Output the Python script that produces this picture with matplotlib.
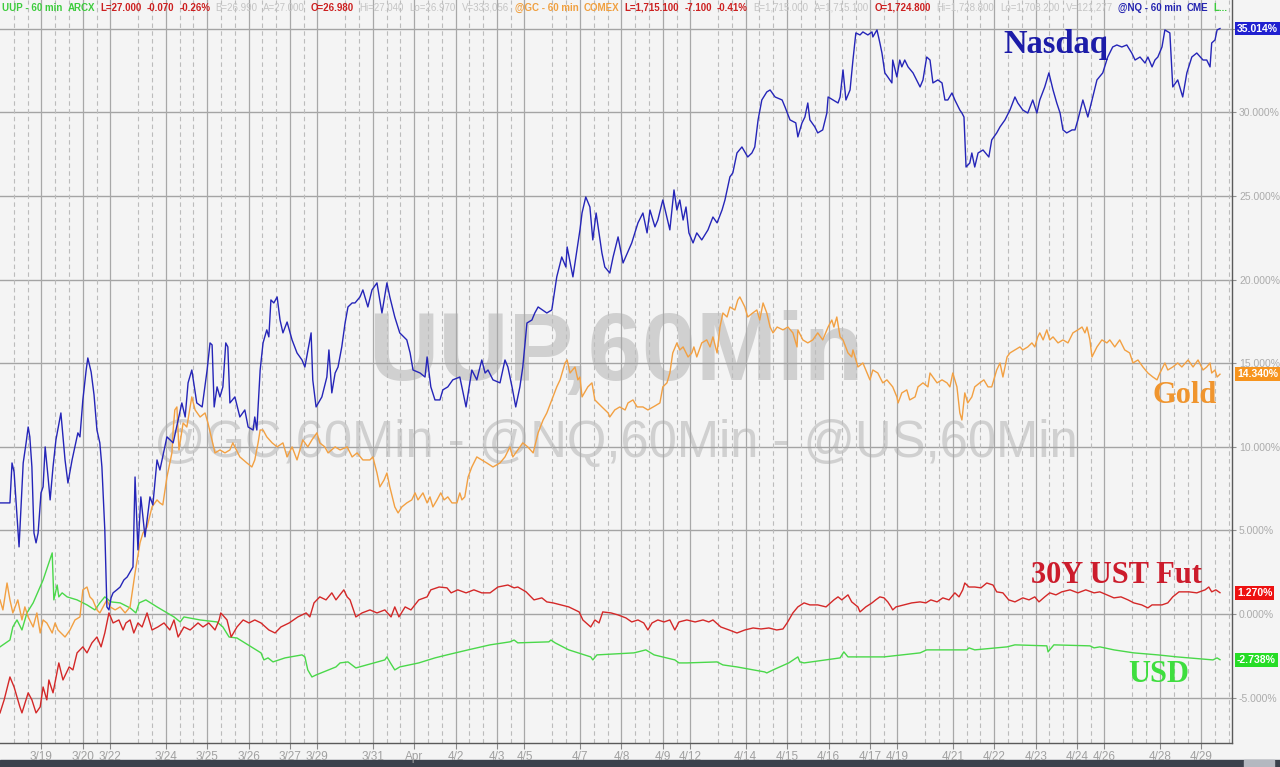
import numpy as np
import matplotlib.pyplot as plt
import matplotlib.transforms as mtransforms
from matplotlib.patches import Rectangle

# time axis: trading-session days (3/19 session starts at 1.0, Sunday evening sessions start at x.66)
tick_labels = ['3/19', '3/20', '3/22', '3/24', '3/25', '3/26', '3/27', '3/29', '3/31', 'Apr',
               '4/2', '4/3', '4/5', '4/7', '4/8', '4/9', '4/12', '4/14', '4/15', '4/16',
               '4/17', '4/19', '4/21', '4/22', '4/23', '4/24', '4/26', '4/28', '4/29']
tick_pos = [1, 2, 2.66, 4, 5, 6, 7, 7.66, 9, 10,
            11, 12, 12.66, 14, 15, 16, 16.66, 18, 19, 20,
            21, 21.66, 23, 24, 25, 26, 26.66, 28, 29]

# Nasdaq (% change)
nq_t = [0.00, 0.24, 0.29, 0.34, 0.46, 0.56, 0.63, 0.68, 0.72, 0.77,
        0.82, 0.87, 0.92, 0.99, 1.04, 1.09, 1.16, 1.21, 1.28, 1.35,
        1.47, 1.57, 1.64, 1.74, 1.88, 1.93, 2.00, 2.08, 2.12, 2.20,
        2.27, 2.34, 2.41, 2.46, 2.53, 2.58, 2.63, 2.68, 2.73, 2.82,
        2.90, 2.99, 3.07, 3.14, 3.21, 3.26, 3.33, 3.40, 3.50, 3.62,
        3.69, 3.79, 3.86, 4.03, 4.18, 4.39, 4.47, 4.54, 4.63, 4.75,
        4.88, 5.00, 5.07, 5.12, 5.17, 5.24, 5.31, 5.38, 5.45, 5.50,
        5.55, 5.67, 5.79, 5.91, 5.99, 6.11, 6.15, 6.20, 6.28, 6.35,
        6.44, 6.49, 6.54, 6.61, 6.69, 6.76, 6.83, 6.93, 7.05, 7.17,
        7.29, 7.36, 7.51, 7.55, 7.63, 7.77, 7.89, 7.94, 8.01, 8.09,
        8.16, 8.25, 8.33, 8.40, 8.50, 8.57, 8.69, 8.76, 8.88, 8.98,
        9.10, 9.22, 9.34, 9.41, 9.53, 9.65, 9.82, 9.90, 9.97, 10.14,
        10.26, 10.31, 10.40, 10.50, 10.62, 10.69, 10.81, 10.93, 11.10, 11.25,
        11.39, 11.51, 11.63, 11.71, 11.78, 11.90, 12.07, 12.19, 12.26, 12.36,
        12.45, 12.55, 12.62, 12.72, 12.84, 12.91, 12.99, 13.20, 13.32, 13.44,
        13.56, 13.66, 13.69, 13.83, 14.00, 14.05, 14.14, 14.24, 14.31, 14.39,
        14.53, 14.60, 14.72, 14.80, 14.92, 15.04, 15.25, 15.40, 15.52, 15.62,
        15.69, 15.81, 15.88, 16.00, 16.17, 16.27, 16.34, 16.41, 16.49, 16.56,
        16.63, 16.73, 16.82, 16.94, 17.09, 17.21, 17.31, 17.43, 17.50, 17.62,
        17.69, 17.79, 17.91, 18.05, 18.15, 18.22, 18.30, 18.39, 18.51, 18.59,
        18.71, 18.88, 18.95, 19.07, 19.21, 19.26, 19.36, 19.43, 19.50, 19.55,
        19.67, 19.74, 19.86, 19.96, 19.99, 20.11, 20.23, 20.28, 20.35, 20.42,
        20.52, 20.59, 20.66, 20.76, 20.83, 20.95, 21.05, 21.07, 21.17, 21.24,
        21.29, 21.36, 21.43, 21.53, 21.55, 21.65, 21.72, 21.77, 21.84, 21.92,
        22.04, 22.21, 22.28, 22.37, 22.45, 22.52, 22.64, 22.74, 22.81, 22.88,
        22.98, 23.05, 23.17, 23.22, 23.27, 23.32, 23.41, 23.46, 23.53, 23.61,
        23.73, 23.87, 23.94, 24.06, 24.14, 24.26, 24.38, 24.50, 24.57, 24.69,
        24.81, 24.93, 25.03, 25.10, 25.22, 25.32, 25.42, 25.51, 25.59, 25.66,
        25.75, 25.88, 25.95, 26.02, 26.14, 26.26, 26.36, 26.48, 26.62, 26.74,
        26.86, 26.96, 27.08, 27.20, 27.32, 27.40, 27.52, 27.64, 27.71, 27.81,
        27.88, 27.95, 28.05, 28.12, 28.24, 28.31, 28.43, 28.55, 28.65, 28.77,
        28.89, 29.04, 29.13, 29.21, 29.25, 29.33, 29.38, 29.45]
nq_v = [6.64, 6.64, 9.03, 8.49, 4.01, 9.03, 10.23, 11.18, 10.59, 8.79,
        4.84, 4.25, 4.84, 7.24, 7.60, 9.99, 8.19, 6.82, 8.79, 10.41,
        12.02, 9.21, 7.83, 9.21, 10.83, 10.59, 12.80, 14.59, 15.31, 14.47,
        13.10, 11.00, 10.23, 8.79, 5.02, 0.42, 0.24, 0.96, 1.26, 1.44,
        1.61, 2.03, 2.21, 2.51, 2.81, 8.19, 3.83, 7.00, 4.61, 7.00,
        6.52, 9.21, 8.61, 10.59, 10.23, 12.62, 11.78, 13.82, 14.59, 12.62,
        12.38, 14.59, 16.21, 16.09, 12.38, 13.58, 12.98, 13.58, 16.21, 15.97,
        12.62, 12.98, 11.78, 12.20, 11.18, 11.00, 11.78, 11.00, 14.59, 16.21,
        16.99, 16.57, 18.78, 18.60, 18.96, 17.58, 16.81, 17.46, 16.39, 15.61,
        15.19, 14.77, 16.81, 14.00, 12.38, 12.98, 14.17, 15.79, 13.22, 14.41,
        14.77, 15.97, 17.40, 18.36, 18.60, 18.60, 18.96, 19.38, 18.36, 19.38,
        19.80, 18.00, 19.80, 18.96, 17.76, 16.81, 16.39, 15.61, 14.59, 14.41,
        14.17, 15.37, 13.58, 12.80, 12.80, 13.40, 13.58, 14.00, 14.17, 12.38,
        14.59, 14.00, 15.19, 14.41, 14.59, 14.00, 13.82, 15.19, 14.77, 13.58,
        12.38, 13.58, 14.77, 17.40, 17.58, 18.00, 18.36, 18.00, 18.18, 20.16,
        21.35, 20.75, 21.95, 20.16, 22.97, 23.98, 24.94, 24.34, 22.37, 23.98,
        21.59, 20.75, 20.39, 21.35, 22.55, 20.99, 22.19, 23.39, 23.98, 22.79,
        24.16, 23.15, 23.56, 24.76, 22.97, 25.36, 24.16, 24.76, 23.56, 24.34,
        22.79, 22.19, 22.79, 22.37, 22.97, 23.74, 23.39, 24.16, 24.76, 26.14,
        26.38, 27.57, 27.93, 27.33, 27.57, 27.93, 29.55, 30.74, 31.22, 31.34,
        30.92, 30.74, 30.32, 29.55, 29.37, 28.53, 29.37, 29.72, 30.56, 29.55,
        29.13, 28.77, 28.95, 29.96, 30.92, 30.74, 30.56, 30.92, 32.54, 30.74,
        31.34, 33.13, 34.75, 34.63, 34.81, 34.63, 34.81, 34.51, 34.93, 34.15,
        33.55, 32.36, 32.12, 31.76, 33.13, 32.12, 33.13, 32.72, 33.13, 32.72,
        32.36, 31.52, 31.94, 33.31, 33.13, 31.76, 31.94, 31.76, 30.74, 30.74,
        31.16, 30.74, 30.14, 29.96, 29.72, 26.73, 26.97, 27.57, 26.73, 27.57,
        27.75, 27.33, 28.35, 28.77, 29.13, 29.55, 30.14, 30.92, 30.56, 30.14,
        29.96, 30.74, 29.96, 30.74, 31.52, 32.36, 31.34, 30.56, 29.96, 28.95,
        28.77, 28.95, 28.95, 29.55, 30.74, 29.72, 30.74, 31.94, 32.36, 33.31,
        33.91, 34.03, 33.91, 34.03, 33.55, 33.13, 33.31, 32.95, 33.31, 32.72,
        33.13, 33.31, 33.91, 34.93, 34.75, 31.52, 31.94, 30.92, 32.36, 33.31,
        33.55, 33.13, 33.13, 32.72, 34.15, 34.33, 34.93, 35.014]

# Gold (% change)
gc_t = [0.00, 0.07, 0.17, 0.24, 0.31, 0.43, 0.53, 0.60, 0.68, 0.80,
        0.89, 0.97, 1.04, 1.13, 1.26, 1.33, 1.40, 1.57, 1.69, 1.81,
        1.93, 2.00, 2.10, 2.17, 2.24, 2.34, 2.41, 2.58, 2.66, 2.78,
        2.90, 3.02, 3.14, 3.21, 3.26, 3.38, 3.45, 3.55, 3.67, 3.79,
        3.86, 3.93, 4.03, 4.15, 4.18, 4.22, 4.27, 4.32, 4.42, 4.51,
        4.63, 4.71, 4.83, 4.95, 5.02, 5.19, 5.31, 5.43, 5.55, 5.62,
        5.79, 5.96, 6.08, 6.15, 6.23, 6.28, 6.35, 6.44, 6.57, 6.69,
        6.83, 6.93, 7.05, 7.17, 7.31, 7.43, 7.53, 7.65, 7.72, 7.84,
        7.92, 8.09, 8.21, 8.38, 8.50, 8.62, 8.76, 8.93, 9.00, 9.10,
        9.17, 9.27, 9.34, 9.41, 9.53, 9.61, 9.70, 9.82, 9.94, 10.02,
        10.09, 10.21, 10.31, 10.38, 10.45, 10.55, 10.64, 10.72, 10.81, 10.91,
        11.03, 11.10, 11.15, 11.22, 11.30, 11.39, 11.51, 11.63, 11.75, 11.90,
        12.07, 12.19, 12.31, 12.38, 12.50, 12.62, 12.74, 12.87, 12.99, 13.11,
        13.20, 13.32, 13.44, 13.52, 13.64, 13.69, 13.76, 13.88, 13.95, 14.00,
        14.05, 14.19, 14.29, 14.36, 14.53, 14.68, 14.72, 14.84, 14.96, 15.09,
        15.16, 15.28, 15.38, 15.52, 15.64, 15.81, 15.93, 16.00, 16.10, 16.17,
        16.24, 16.34, 16.41, 16.49, 16.61, 16.70, 16.75, 16.82, 16.94, 17.06,
        17.14, 17.21, 17.31, 17.38, 17.45, 17.55, 17.62, 17.74, 17.81, 17.86,
        17.98, 18.05, 18.17, 18.27, 18.34, 18.42, 18.51, 18.59, 18.66, 18.76,
        18.90, 19.02, 19.14, 19.24, 19.26, 19.38, 19.50, 19.62, 19.74, 19.86,
        19.99, 20.08, 20.13, 20.20, 20.28, 20.35, 20.47, 20.56, 20.59, 20.71,
        20.83, 20.93, 21.00, 21.07, 21.19, 21.31, 21.41, 21.55, 21.65, 21.68,
        21.77, 21.89, 21.96, 22.09, 22.16, 22.28, 22.40, 22.45, 22.52, 22.62,
        22.74, 22.86, 22.93, 23.00, 23.10, 23.17, 23.22, 23.29, 23.36, 23.46,
        23.53, 23.65, 23.75, 23.85, 23.94, 24.06, 24.14, 24.21, 24.31, 24.38,
        24.50, 24.62, 24.69, 24.81, 24.91, 24.98, 25.05, 25.10, 25.18, 25.27,
        25.34, 25.42, 25.54, 25.66, 25.78, 25.90, 26.02, 26.12, 26.19, 26.24,
        26.31, 26.36, 26.48, 26.60, 26.72, 26.79, 26.91, 27.03, 27.15, 27.27,
        27.35, 27.47, 27.59, 27.71, 27.83, 27.93, 28.00, 28.12, 28.19, 28.31,
        28.43, 28.53, 28.68, 28.80, 28.92, 29.04, 29.13, 29.21, 29.25, 29.33,
        29.38, 29.45]
gc_v = [0.84, 0.24, 1.85, 0.84, 0.06, 0.84, -0.36, 0.42, -0.18, -0.78,
        0.06, -1.14, -0.36, -0.54, -1.14, -0.54, -0.96, -1.38, -0.96, -0.36,
        -0.18, 1.44, 1.61, 1.02, 0.84, 0.24, 0.06, 0.84, 0.42, 0.24,
        0.42, 0.06, 0.42, 1.61, 2.45, 4.25, 4.84, 5.20, 6.40, 6.82,
        6.64, 6.52, 8.19, 9.63, 11.00, 12.20, 12.38, 9.81, 11.42, 11.18,
        12.98, 12.20, 11.78, 12.02, 11.42, 9.63, 9.81, 9.63, 9.81, 10.23,
        9.39, 9.03, 8.79, 9.21, 10.23, 11.00, 11.00, 10.59, 10.23, 9.99,
        10.23, 9.39, 9.99, 9.21, 10.41, 9.99, 10.41, 10.83, 10.23, 9.99,
        9.63, 9.99, 9.81, 9.99, 9.39, 9.63, 9.21, 9.21, 9.39, 8.43,
        7.60, 8.01, 8.43, 7.60, 6.40, 6.04, 6.40, 6.64, 6.82, 7.24,
        6.82, 7.24, 6.64, 7.00, 6.40, 6.82, 7.24, 6.82, 7.00, 6.64,
        6.64, 7.24, 6.82, 7.00, 8.19, 8.79, 9.39, 9.21, 9.03, 8.79,
        9.03, 9.39, 9.99, 9.39, 9.81, 10.23, 9.99, 9.63, 10.83, 11.60,
        12.02, 12.80, 13.58, 14.00, 15.01, 15.19, 14.41, 14.77, 14.00, 14.17,
        12.98, 13.58, 13.82, 12.80, 12.38, 12.02, 11.78, 12.20, 12.38, 12.20,
        12.62, 12.80, 12.38, 12.38, 12.20, 12.44, 12.62, 13.58, 13.82, 14.41,
        15.61, 16.21, 15.79, 15.97, 15.37, 15.61, 15.97, 15.37, 16.21, 16.39,
        15.97, 16.57, 15.61, 17.16, 18.00, 17.76, 18.36, 18.18, 18.78, 18.96,
        18.36, 17.76, 18.00, 18.18, 17.58, 18.60, 18.00, 17.16, 16.81, 17.16,
        16.99, 17.16, 16.81, 15.97, 16.99, 16.39, 16.21, 16.39, 16.81, 16.39,
        17.16, 17.58, 17.16, 17.76, 16.57, 16.39, 15.61, 15.37, 15.79, 14.77,
        15.01, 14.41, 14.00, 14.59, 14.41, 13.82, 14.00, 13.58, 12.98, 12.62,
        13.22, 13.40, 12.80, 12.98, 13.58, 13.82, 13.58, 14.41, 14.17, 13.82,
        14.00, 13.82, 13.58, 14.41, 13.58, 12.02, 11.60, 13.22, 12.62, 12.98,
        13.58, 13.82, 14.00, 13.58, 13.58, 14.59, 15.01, 14.17, 15.37, 15.61,
        15.79, 15.97, 15.79, 15.97, 16.21, 15.97, 16.57, 16.81, 16.39, 16.99,
        16.39, 16.57, 16.21, 16.39, 16.21, 16.81, 16.99, 17.16, 16.81, 17.16,
        16.39, 15.37, 15.97, 16.39, 16.21, 16.39, 15.97, 16.39, 15.79, 15.61,
        15.01, 15.19, 14.77, 14.41, 14.17, 14.00, 14.41, 15.01, 14.59, 14.77,
        15.01, 14.77, 15.19, 14.77, 15.19, 14.59, 14.77, 15.01, 14.41, 14.59,
        14.17, 14.340]

# 30Y UST future (% change)
us_t = [0.00, 0.10, 0.24, 0.34, 0.48, 0.53, 0.68, 0.77, 0.87, 0.97,
        1.04, 1.13, 1.18, 1.28, 1.42, 1.52, 1.67, 1.76, 1.86, 2.00,
        2.10, 2.22, 2.34, 2.44, 2.53, 2.63, 2.73, 2.87, 2.97, 3.04,
        3.14, 3.23, 3.33, 3.43, 3.55, 3.67, 3.81, 3.96, 4.10, 4.20,
        4.30, 4.44, 4.59, 4.78, 4.90, 5.04, 5.19, 5.29, 5.33, 5.48,
        5.58, 5.72, 5.87, 6.01, 6.15, 6.30, 6.49, 6.64, 6.78, 6.98,
        7.19, 7.39, 7.48, 7.58, 7.72, 7.87, 8.01, 8.11, 8.30, 8.38,
        8.45, 8.59, 8.74, 8.93, 9.10, 9.29, 9.44, 9.53, 9.63, 9.78,
        9.92, 10.11, 10.31, 10.40, 10.60, 10.79, 10.89, 11.05, 11.25, 11.44,
        11.63, 11.83, 12.02, 12.26, 12.41, 12.50, 12.70, 12.89, 13.08, 13.20,
        13.35, 13.54, 13.73, 13.98, 14.07, 14.26, 14.36, 14.46, 14.55, 14.75,
        14.92, 15.11, 15.25, 15.40, 15.54, 15.64, 15.74, 15.88, 16.03, 16.17,
        16.29, 16.39, 16.58, 16.78, 16.97, 17.11, 17.21, 17.40, 17.60, 17.79,
        17.98, 18.18, 18.37, 18.56, 18.75, 18.90, 19.00, 19.14, 19.26, 19.41,
        19.55, 19.74, 19.94, 20.13, 20.23, 20.32, 20.47, 20.56, 20.71, 20.76,
        20.90, 21.05, 21.14, 21.24, 21.34, 21.43, 21.51, 21.55, 21.63, 21.82,
        22.01, 22.21, 22.35, 22.47, 22.62, 22.76, 22.91, 23.05, 23.15, 23.24,
        23.29, 23.39, 23.53, 23.68, 23.82, 23.97, 24.06, 24.21, 24.35, 24.50,
        24.69, 24.84, 24.98, 25.08, 25.22, 25.34, 25.49, 25.63, 25.83, 26.02,
        26.21, 26.41, 26.55, 26.72, 26.89, 27.06, 27.23, 27.37, 27.56, 27.71,
        27.81, 28.05, 28.19, 28.31, 28.46, 28.70, 28.89, 29.09, 29.18, 29.25,
        29.35, 29.45]
us_v = [-5.92, -5.14, -3.77, -4.37, -5.56, -5.92, -4.72, -5.14, -5.92, -5.56,
        -4.37, -5.14, -3.95, -4.72, -2.93, -3.95, -3.17, -3.35, -2.33, -1.97,
        -2.33, -1.73, -1.38, -1.97, -1.14, 0.06, -0.54, -0.36, -0.96, -0.54,
        -0.36, -1.14, -0.54, -0.78, 0.06, -0.96, -0.78, -0.54, -0.96, -0.36,
        -1.38, -0.78, -0.96, -0.54, -0.78, -0.54, -0.96, -0.36, 0.06, -0.36,
        -1.38, -0.78, -0.36, -0.54, -0.36, -0.54, -0.96, -1.14, -0.78, -0.54,
        -0.18, 0.06, -0.18, 0.66, 1.02, 0.84, 1.26, 0.84, 1.44, 1.02,
        0.84, -0.18, 0.06, 0.24, 0.06, 0.24, -0.18, 0.42, -0.18, 0.42,
        0.24, 0.84, 1.02, 1.44, 1.61, 1.56, 1.26, 1.44, 1.26, 1.44,
        1.26, 1.26, 1.61, 1.73, 1.56, 1.61, 1.32, 0.84, 0.96, 0.72,
        0.66, 0.54, 0.42, 0.12, -0.36, -0.78, -0.36, -0.54, 0.12, 0.06,
        -0.06, -0.24, -0.48, -0.36, -0.54, -0.96, -0.54, -0.36, -0.48, -0.36,
        -0.96, -0.48, -0.36, -0.48, -0.36, -0.48, -0.36, -0.78, -0.96, -1.14,
        -0.96, -0.84, -0.90, -0.84, -0.96, -0.90, -0.54, 0.06, 0.42, 0.66,
        0.54, 0.54, 0.42, 0.84, 1.02, 0.84, 1.14, 0.72, 0.42, 0.12,
        0.42, 0.66, 0.84, 1.02, 0.96, 0.72, 0.42, 0.24, 0.42, 0.54,
        0.66, 0.72, 0.66, 0.84, 0.72, 0.96, 0.84, 1.26, 1.02, 1.44,
        1.85, 1.61, 1.61, 1.56, 1.85, 1.73, 1.32, 1.26, 0.84, 0.72,
        0.96, 0.84, 1.02, 0.72, 1.02, 1.26, 1.14, 1.32, 1.44, 1.26,
        1.44, 1.26, 1.32, 1.14, 0.96, 1.02, 0.84, 0.66, 0.54, 0.36,
        0.54, 0.54, 0.66, 1.02, 1.32, 1.32, 1.26, 1.44, 1.61, 1.32,
        1.44, 1.270]

# USD (UUP, % change)
usd_t = [0.00, 0.24, 0.31, 0.41, 0.53, 0.65, 0.80, 1.04, 1.26, 1.30,
         1.38, 1.42, 1.50, 1.62, 1.86, 2.10, 2.29, 2.41, 2.53, 2.68,
         2.90, 3.14, 3.28, 3.36, 3.52, 3.79, 4.20, 4.35, 4.44, 4.83,
         5.24, 5.38, 5.53, 5.72, 6.30, 6.37, 6.47, 6.59, 6.88, 7.29,
         7.36, 7.43, 7.53, 7.63, 8.11, 8.21, 8.40, 8.59, 9.29, 9.34,
         9.41, 9.53, 9.65, 10.11, 10.50, 10.79, 11.30, 11.83, 12.31, 12.41,
         12.50, 13.25, 13.30, 13.40, 13.73, 14.26, 14.31, 14.41, 15.30, 15.40,
         15.59, 15.79, 16.29, 16.39, 16.58, 17.31, 17.45, 17.79, 18.46, 18.51,
         18.66, 19.04, 19.26, 19.31, 19.41, 20.28, 20.37, 20.47, 21.34, 22.21,
         22.37, 23.34, 23.39, 23.53, 24.31, 24.50, 25.27, 25.30, 25.44, 26.31,
         26.41, 26.55, 26.89, 27.37, 27.95, 28.41, 29.28, 29.38, 29.45]
usd_v = [-1.97, -1.56, -0.78, -0.36, -0.96, 0.06, 0.66, 2.03, 3.65, 0.84,
         1.73, 1.02, 1.26, 1.02, 0.84, 0.54, 0.24, 0.66, 1.02, 0.72,
         0.66, 0.36, 0.06, 0.66, 0.84, 0.42, -0.18, -0.48, -0.18, -0.36,
         -0.48, -0.78, -1.38, -1.44, -2.33, -2.75, -2.63, -2.87, -2.63, -2.45,
         -2.57, -3.35, -3.77, -3.65, -3.17, -2.93, -2.87, -3.23, -2.75, -2.57,
         -2.87, -3.35, -3.17, -2.93, -2.63, -2.45, -2.15, -1.85, -1.67, -1.56,
         -1.73, -1.67, -1.56, -1.73, -2.15, -2.57, -2.75, -2.45, -2.33, -2.27,
         -2.15, -2.45, -2.75, -2.93, -2.93, -2.87, -3.05, -3.17, -3.47, -3.53,
         -3.35, -2.93, -2.57, -2.87, -2.93, -2.63, -2.27, -2.57, -2.57, -2.33,
         -2.15, -2.15, -2.03, -2.15, -1.97, -1.85, -1.91, -2.27, -1.85, -1.91,
         -2.03, -1.97, -2.15, -2.33, -2.45, -2.57, -2.75, -2.63, -2.738]

# header quote strip
GREEN, RED, LGRAY, ORANGE, BLUE = '#3ccc3c', '#cc2020', '#c4c4c4', '#f0a040', '#2424b0'
header = [('UUP - 60 min', GREEN), ('ARCX', GREEN), ('L=27.000', RED), ('-0.070', RED), ('-0.26%', RED),
          ('B=26.990', LGRAY), ('A=27.000', LGRAY), ('O=26.980', RED), ('Hi=27.040', LGRAY),
          ('Lo=26.970', LGRAY), ('V=333,056', LGRAY), ('@GC - 60 min', ORANGE), ('COMEX', ORANGE),
          ('L=1,715.100', RED), ('-7.100', RED), ('-0.41%', RED), ('B=1,715.000', LGRAY),
          ('A=1,715.100', LGRAY), ('O=1,724.800', RED), ('Hi=1,728.800', LGRAY), ('Lo=1,708.200', LGRAY),
          ('V=121,277', LGRAY), ('@NQ - 60 min', BLUE), ('CME', BLUE), ('L...', GREEN)]

W, H = 1280, 767
BG = '#f4f4f4'
fig = plt.figure(figsize=(W / 100, H / 100), dpi=100, facecolor=BG)
ax = fig.add_axes([0, 24 / H, 1232 / W, 743 / H])
ax.set_facecolor(BG)
ax.set_xlim(0, 29.74)
ax.set_ylim(-7.72, 36.72)

# grid
for y in range(-5, 40, 5):
    ax.axhline(y, color='#a4a4a4', lw=1.0, zorder=1)
for p in tick_pos:
    ax.axvline(p, color='#a8a8a8', lw=0.9, zorder=1)
for k in range(0, 30):
    for f in (1 / 3, 2 / 3):
        x = k + f
        if min(abs(x - p) for p in tick_pos) > 0.08:
            ax.axvline(x, color='#bcbcbc', lw=0.8, ls=(0, (4, 3)), zorder=1)

# watermark
ax.text(0.5, 1 - 380 / 743, 'UUP,60Min', transform=ax.transAxes, ha='center', va='baseline',
        fontsize=70, fontweight='bold', family='Liberation Sans', color='#d0d0d0', zorder=0.5)
ax.text(0.5, 1 - 457 / 743, '@GC,60Min - @NQ,60Min - @US,60Min', transform=ax.transAxes,
        ha='center', va='baseline', fontsize=36.5, family='Liberation Sans', color='#d0d0d0', zorder=0.5)

# series
c_nq, c_gc, c_us, c_usd = '#2525b8', '#f2a042', '#d42828', '#4ad84a'
ax.plot(usd_t, usd_v, color=c_usd, lw=1.0, zorder=3)
ax.plot(us_t, us_v, color=c_us, lw=1.0, zorder=3)
ax.plot(gc_t, gc_v, color=c_gc, lw=1.0, zorder=3)
ax.plot(nq_t, nq_v, color=c_nq, lw=1.0, zorder=3)

# series names
ax.text(24.21, 33.55, 'Nasdaq', color='#1c1ca8', fontsize=23.5, fontweight='bold',
        family='Liberation Serif', va='baseline', zorder=4)
ax.text(27.83, 12.62, 'Gold', color='#f0952e', fontsize=22, fontweight='bold',
        family='Liberation Serif', va='baseline', zorder=4)
ax.text(24.88, 1.85, '30Y UST Fut', color='#cc1c2c', fontsize=22, fontweight='bold',
        family='Liberation Serif', va='baseline', zorder=4)
ax.text(27.23, -4.07, 'USD', color='#3ede3e', fontsize=22, fontweight='bold',
        family='Liberation Serif', va='baseline', zorder=4)

# axes styling
for s in ('top', 'left'):
    ax.spines[s].set_visible(False)
for s in ('right', 'bottom'):
    ax.spines[s].set_color('#5a5a5a')
    ax.spines[s].set_linewidth(1.0)
ax.yaxis.tick_right()
yt = list(range(-5, 40, 5))
ax.set_yticks(yt, [f'{v:.3f}%' for v in yt])
ax.tick_params(axis='y', labelsize=7.5, labelcolor='#ababab', color='#909090', length=3, pad=2)
ax.set_xticks(tick_pos, tick_labels)
ax.tick_params(axis='x', labelsize=8.5, labelcolor='#a0a0a0', color='#8a8a8a', length=4, pad=2)
for lab in ax.get_xticklabels() + ax.get_yticklabels():
    lab.set_family('Liberation Sans')

# last value boxes
trans = mtransforms.blended_transform_factory(ax.transAxes, ax.transData)
for val, col in ((nq_v[-1], '#2020d0'), (gc_v[-1], '#f7941d'), (us_v[-1], '#ee1111'), (usd_v[-1], '#26dd26')):
    ax.text(1.004, val, f'{val:.3f}%', transform=trans, ha='left', va='center', color='white',
            fontsize=7.5, fontweight='bold', family='Liberation Sans', clip_on=False, zorder=5,
            bbox=dict(boxstyle='square,pad=0.18', fc=col, ec='none'))

# bottom bar
fig.add_artist(Rectangle((0, 0), 1, 7 / H, transform=fig.transFigure, color='#3b414c', zorder=0))
fig.add_artist(Rectangle((1244 / W, 0), 30 / W, 7 / H, transform=fig.transFigure, color='#b4b8c0', zorder=0))

# header strip laid out left to right on a common baseline
renderer = fig.canvas.get_renderer()
widths = []
for s, c in header:
    t = fig.text(0, 0, s, fontsize=7, fontweight='bold', family='Liberation Sans')
    widths.append(t.get_window_extent(renderer).width)
    t.remove()
gap = 5
scale = (1228 - 2 - gap * (len(header) - 1)) / sum(widths)
x = 2
for (s, c), w in zip(header, widths):
    fig.text(x / W, 1 - 11 / H, s, fontsize=7 * scale, color=c, va='baseline',
             fontweight='normal' if c == LGRAY else 'bold', family='Liberation Sans')
    x += w * scale + gap

fig.savefig('out.png', dpi=100, facecolor=fig.get_facecolor())
